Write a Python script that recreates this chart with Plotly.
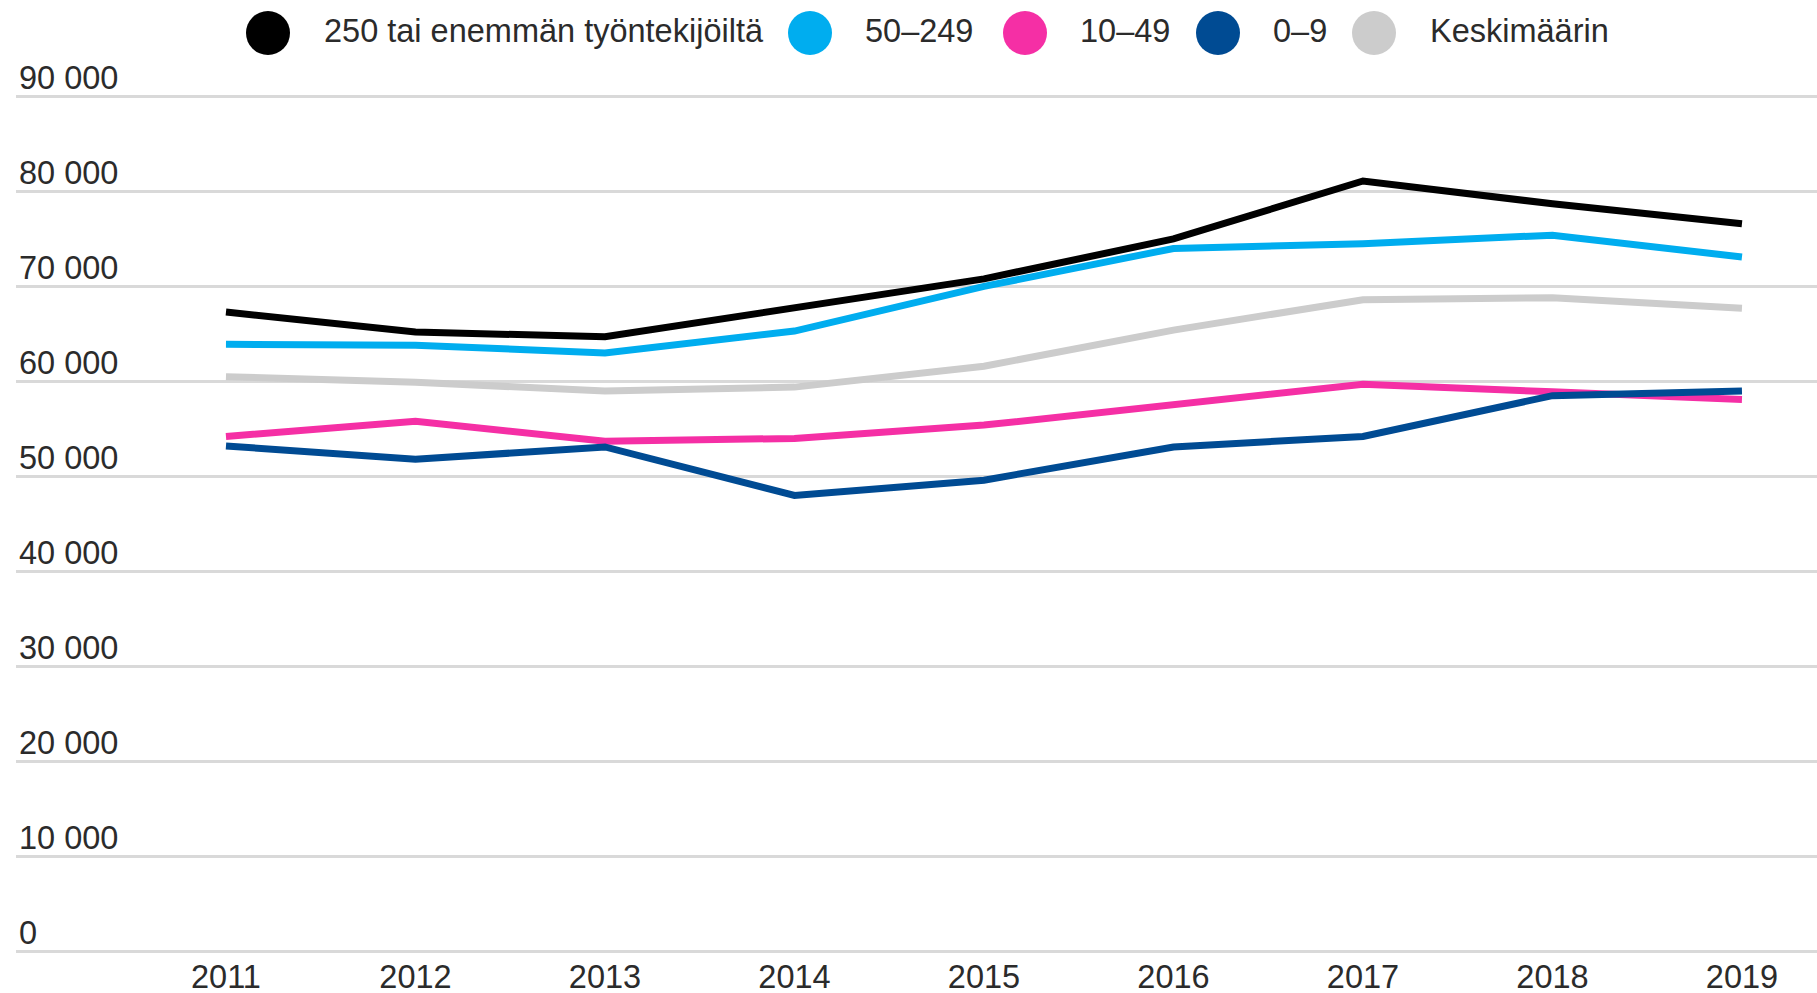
import plotly.graph_objects as go

# ---------------- data ----------------
years = [2011, 2012, 2013, 2014, 2015, 2016, 2017, 2018, 2019]

big_250 = [67300, 65200, 64700, 67700, 70800, 75000, 81100, 78700, 76600]
mid_50_249 = [63900, 63800, 63000, 65300, 70000, 74000, 74500, 75400, 73100]
small_10_49 = [54200, 55800, 53700, 54000, 55400, 57500, 59700, 58900, 58100]
micro_0_9 = [53200, 51800, 53100, 48000, 49600, 53100, 54200, 58500, 59000]
average = [60500, 59900, 59000, 59400, 61600, 65400, 68600, 68800, 67700]

series_names = ["250 tai enemmän työntekijöiltä", "50–249", "10–49", "0–9", "Keskimäärin"]
series_colors = ["#000000", "#00adef", "#f52fa5", "#004b93", "#cccccc"]
series_values = [big_250, mid_50_249, small_10_49, micro_0_9, average]

y_tickvals = [0, 10000, 20000, 30000, 40000, 50000, 60000, 70000, 80000, 90000]
y_ticktext = ["0", "10 000", "20 000", "30 000", "40 000", "50 000",
              "60 000", "70 000", "80 000", "90 000"]

# ---------------- layout geometry (pixels) ----------------
W, H = 1817, 993
Y_MIN, Y_MAX = -500, 95000
L, R, T, B = 16, 0, 49, 37
plot_w = W - L - R
plot_h = H - T - B

FONT = "Liberation Sans, Arial, sans-serif"
TXT = "#2b2b2b"
FS = 32.5


def px_x(px):
    return (px - L) / plot_w


def px_y(py):
    return (H - B - py) / plot_h


fig = go.Figure()

# draw order: gray, cyan, black, pink, dark blue (dark blue on top)
order = [4, 1, 0, 2, 3]
for i in order:
    fig.add_trace(go.Scatter(
        x=years, y=series_values[i], mode="lines", name=series_names[i],
        line=dict(color=series_colors[i], width=7),
        showlegend=False, hoverinfo="skip",
    ))

# manual legend (large dots + labels)
dot_cx = [268, 810, 1025, 1218, 1374]
text_x = [322, 863, 1078, 1271, 1428]
dot_y = 33
text_y = 31
shapes = []
annotations = []
for i in range(5):
    shapes.append(dict(
        type="circle", xref="paper", yref="paper",
        xsizemode="pixel", ysizemode="pixel",
        xanchor=px_x(dot_cx[i]), yanchor=px_y(dot_y),
        x0=-22, x1=22, y0=-22, y1=22,
        fillcolor=series_colors[i], line=dict(width=0), layer="above",
    ))
    annotations.append(dict(
        text=series_names[i], xref="paper", yref="paper",
        x=px_x(text_x[i]), y=px_y(text_y), xanchor="left", yanchor="middle",
        showarrow=False, font=dict(family=FONT, size=FS, color=TXT),
    ))

fig.update_layout(
    width=W, height=H,
    margin=dict(l=L, r=R, t=T, b=B, pad=0, autoexpand=False),
    paper_bgcolor="white", plot_bgcolor="white",
    showlegend=False,
    shapes=shapes, annotations=annotations,
    font=dict(family=FONT, size=FS, color=TXT),
    xaxis=dict(
        range=[2009.892, 2019.396],
        tickvals=years, ticktext=[str(y) for y in years],
        showgrid=False, zeroline=False, showline=False,
        ticks="", ticklabelstandoff=-2,
        tickfont=dict(family=FONT, size=FS, color=TXT),
        automargin=False, fixedrange=True,
    ),
    yaxis=dict(
        range=[Y_MIN, Y_MAX],
        tickvals=y_tickvals, ticktext=y_ticktext,
        showgrid=True, gridcolor="#d9d9d9", gridwidth=3,
        zeroline=False, showline=False,
        ticks="", ticklabelposition="inside top", ticklabelshift=4,
        tickfont=dict(family=FONT, size=FS, color=TXT),
        automargin=False, fixedrange=True,
    ),
)

fig.write_html("out.html", config={"displayModeBar": False},
               post_script="document.body.style.margin='0';")
